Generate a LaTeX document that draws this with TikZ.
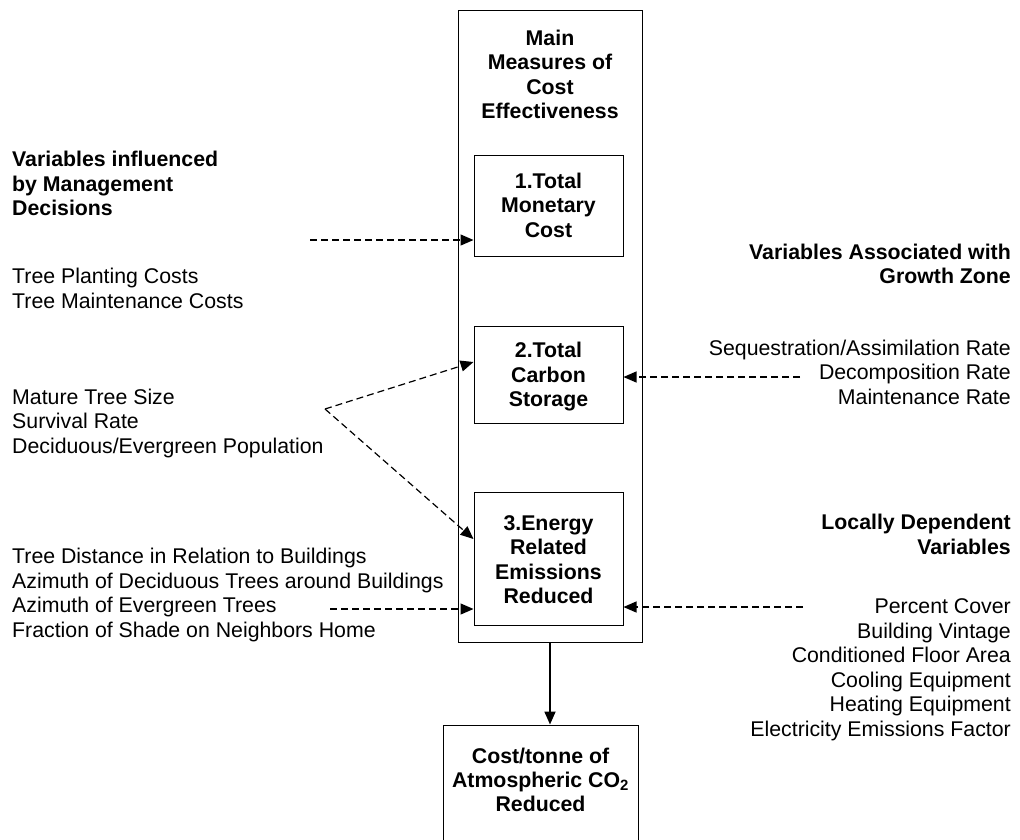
\documentclass[tikz,border=0pt]{standalone}
\usepackage{fontspec}
\setmainfont{Liberation Sans}
\usetikzlibrary{arrows.meta}
\begin{document}
\begin{tikzpicture}[x=1pt,y=-1pt,
    txt/.style={font=\fontsize{21.3}{24.5}\selectfont,inner sep=0pt},
    hd/.style={font=\fontsize{21.3}{24.5}\selectfont\bfseries},
    ltxt/.style={txt,align=left,anchor=base west},
    rtxt/.style={txt,align=right,anchor=base east},
    ctxt/.style={txt,hd,align=center,anchor=base},
    box/.style={draw,line width=1pt,inner sep=0pt},
    feed/.style={dash pattern=on 7pt off 4pt,line width=1.2pt,-{Triangle[length=13pt,width=11pt]}}]
    \useasboundingbox (0,0) rectangle (1020,839);
    % main column
    \node[box,minimum width=184pt,minimum height=632pt] (main) at (550,326) {};
    \node[box,minimum width=149pt,minimum height=101pt] (box1) at (548.5,205.5) {};
    \node[box,minimum width=149pt,minimum height=97pt] (box2) at (548.5,374.5) {};
    \node[box,minimum width=149pt,minimum height=133pt] (box3) at (548.5,558.5) {};
    \node[box,minimum width=195pt,minimum height=116pt] (result) at (540.5,783) {};
    % texts (base = last line)
    \node[ctxt] (maintxt) at (550,118.5) {Main\\Measures of\\Cost\\Effectiveness};
    \node[ctxt] (txt1) at (548.5,237) {1.Total\\Monetary\\Cost};
    \node[ctxt] (txt2) at (548.5,406.5) {2.Total\\Carbon\\Storage};
    \node[ctxt] (txt3) at (548.5,603.5) {3.Energy\\Related\\Emissions\\Reduced};
    \node[ctxt,font=\fontsize{21.3}{24}\selectfont\bfseries] (restxt) at (540.5,811) {Cost/tonne of\\Atmospheric CO\textsubscript{2}\\Reduced};
    % left side
    \node[ltxt,hd] (mgmt) at (12,215.5) {Variables influenced\\by Management\\Decisions};
    \node[ltxt] (costs) at (12,308) {Tree Planting Costs\\Tree Maintenance Costs};
    \node[ltxt] (size) at (12,453) {Mature Tree Size\\Survival Rate\\Deciduous/Evergreen Population};
    \node[ltxt] (dist) at (12,637) {Tree Distance in Relation to Buildings\\Azimuth of Deciduous Trees around Buildings\\Azimuth of Evergreen Trees\\Fraction of Shade on Neighbors Home};
    % right side
    \node[rtxt,hd] (zone) at (1011,283.5) {Variables Associated with\\Growth Zone};
    \node[rtxt] (rates) at (1011,404) {Sequestration/Assimilation Rate\\Decomposition Rate\\Maintenance Rate};
    \node[rtxt,hd] (local) at (1011,554) {Locally Dependent\\Variables};
    \node[rtxt] (build) at (1011,736) {Percent Cover\\Building Vintage\\Conditioned Floor Area\\Cooling Equipment\\Heating Equipment\\Electricity Emissions Factor};
    % connectors
    \coordinate (c1) at (310,240);
    \coordinate (fork) at (325,409);
    \coordinate (c3) at (330,609);
    \coordinate (c2) at (800,377);
    \coordinate (c4) at (803,607);
    \draw[feed] (c1) -- (c1 -| box1.west);
    \draw[feed] (fork) -- (box2.west |- 0,362);
    \draw[feed] (fork) -- (box3.west |- 0,539);
    \draw[feed] (c3) -- (c3 -| box3.west);
    \draw[feed] (c2) -- (c2 -| box2.east);
    \draw[feed] (c4) -- (c4 -| box3.east);
    \draw[line width=1.8pt,-{Triangle[length=13pt,width=11pt]}] (main.south) -- (main.south |- result.north);
\end{tikzpicture}
\end{document}
